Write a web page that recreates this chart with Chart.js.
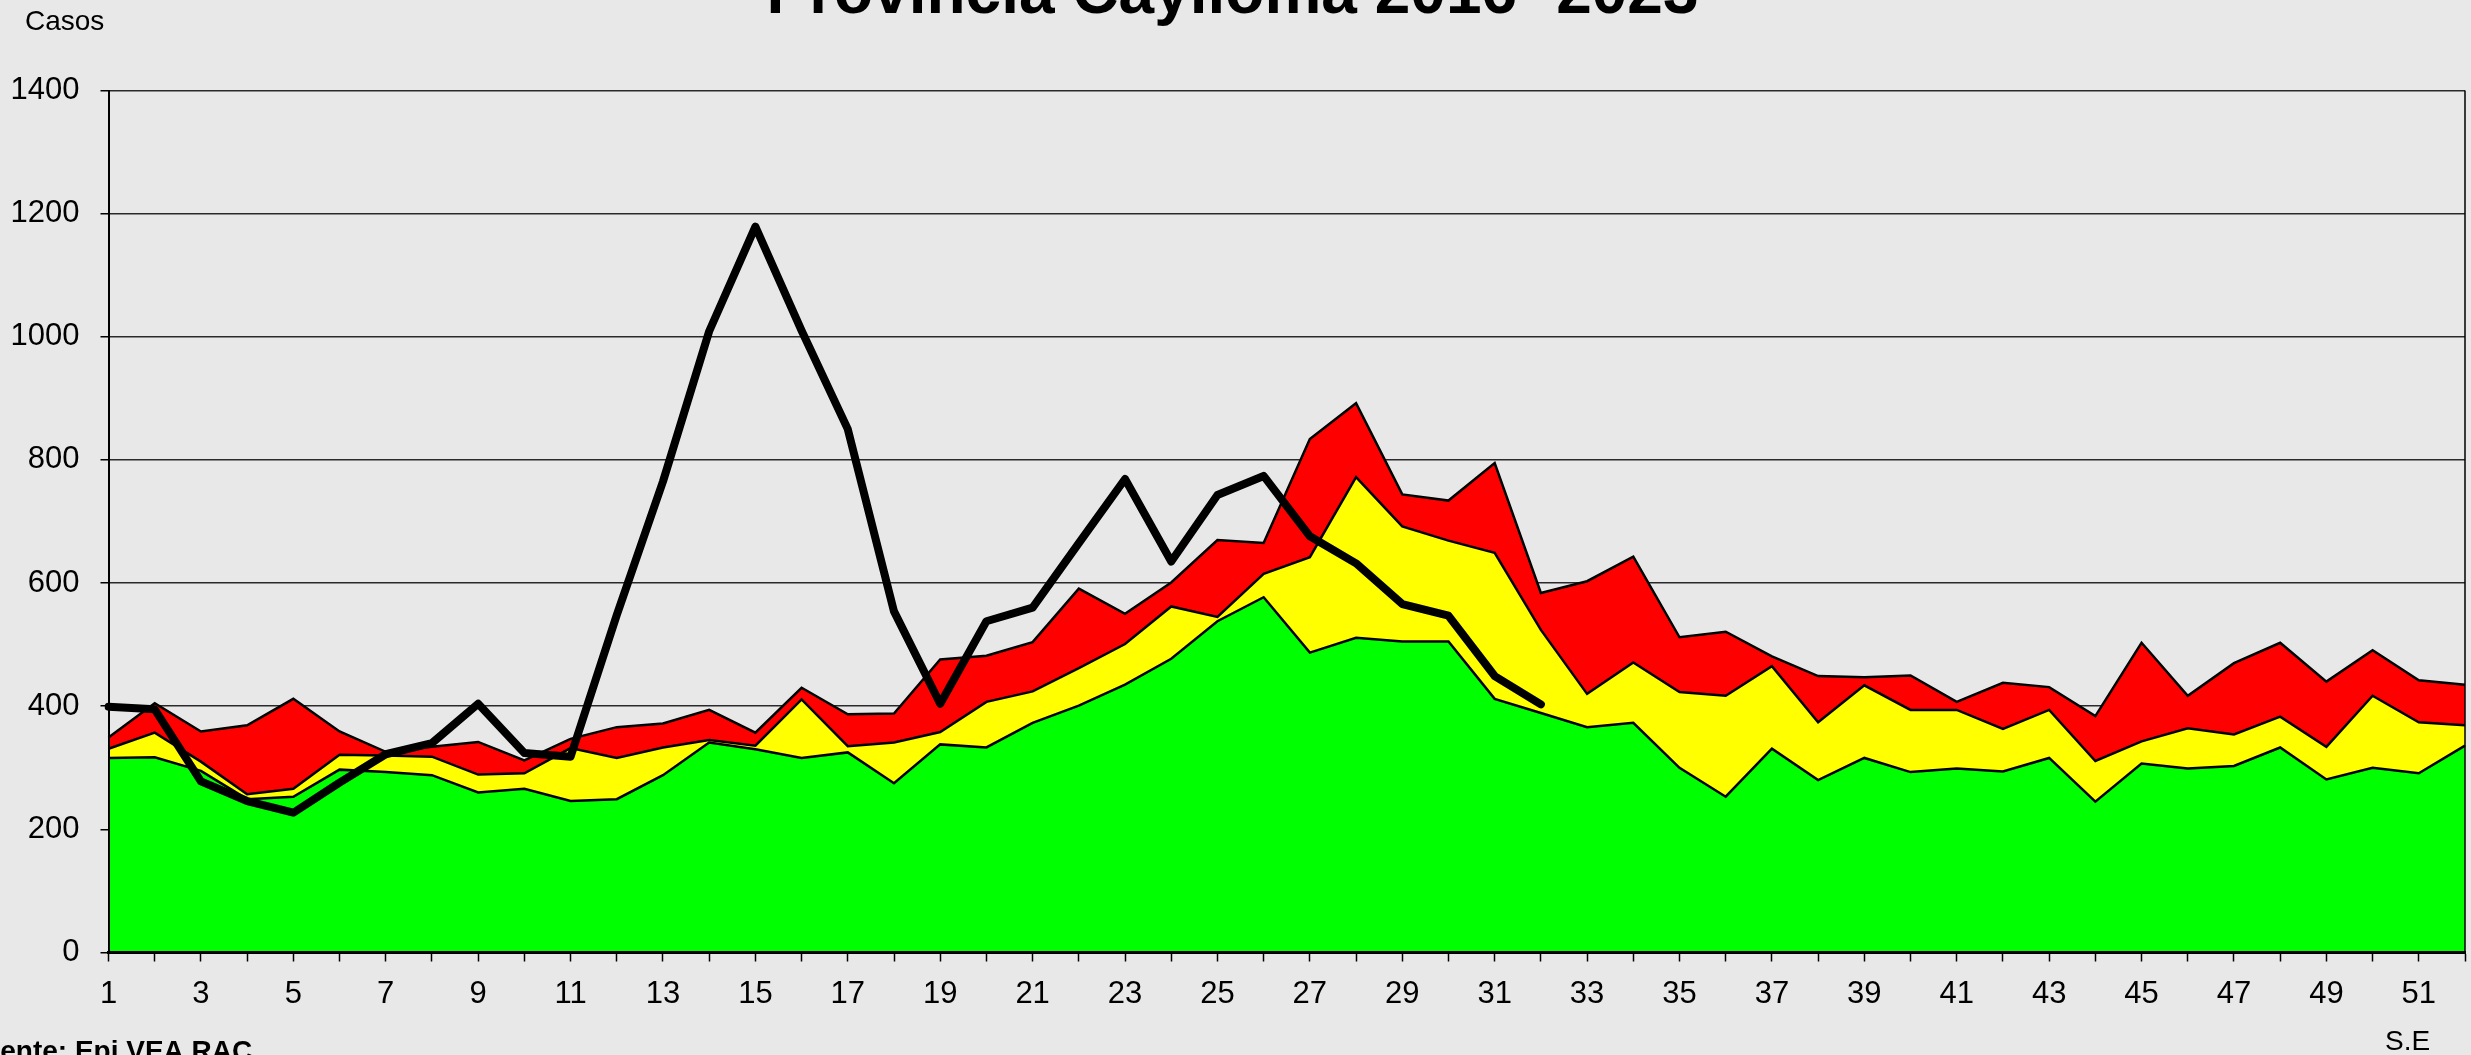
<!DOCTYPE html>
<html lang="es">
<head>
<meta charset="utf-8">
<title>Provincia Caylloma 2016- 2023</title>
<script src="https://cdn.jsdelivr.net/npm/chart.js@4.4.0/dist/chart.umd.min.js"></script>
<style>
    html, body { margin: 0; padding: 0; background: #e8e8e8; overflow: hidden; }
    canvas { display: block; }
</style>
</head>
<body>
<canvas id="canalEndemico" width="2471" height="1055"></canvas>
<script>
// Semanas epidemiologicas
const semanas = [1, 2, 3, 4, 5, 6, 7, 8, 9, 10, 11, 12, 13, 14, 15, 16, 17, 18, 19, 20,
    21, 22, 23, 24, 25, 26, 27, 28, 29, 30, 31, 32, 33, 34, 35, 36, 37, 38, 39, 40,
    41, 42, 43, 44, 45, 46, 47, 48, 49, 50, 51, 52];

// Canal endemico: limite superior de cada zona
const zonaExito = [316, 317, 295, 249, 253, 297, 293, 288, 260, 266, 246, 249, 288, 341, 330, 316, 325, 275, 338, 333,
    373, 401, 435, 477, 538, 577, 487, 511, 505, 505, 412, 389, 366, 373, 300, 253, 331, 280, 316, 293,
    299, 294, 316, 245, 307, 299, 303, 333, 281, 300, 291, 336];
const zonaSeguridad = [331, 357, 310, 257, 266, 321, 320, 318, 289, 291, 332, 316, 333, 345, 336, 411, 335, 341, 358, 407,
    424, 462, 501, 562, 545, 615, 642, 772, 692, 669, 649, 524, 420, 471, 423, 417, 465, 374, 434, 394,
    394, 363, 394, 311, 343, 364, 354, 383, 334, 417, 374, 369];
const zonaAlarma = [349, 405, 359, 369, 412, 359, 326, 334, 342, 312, 347, 366, 372, 394, 357, 430, 387, 388, 476, 482,
    504, 591, 550, 601, 670, 665, 834, 892, 744, 734, 795, 584, 603, 643, 512, 521, 481, 449, 447, 450,
    407, 438, 431, 384, 503, 417, 470, 503, 440, 491, 442, 435];

// Casos 2023 (hasta la S.E 32)
const casos2023 = [399, 395, 278, 246, 227, 276, 322, 340, 404, 324, 318, 548, 765, 1009, 1179, 1010, 850, 554, 404, 538,
    560, 665, 769, 635, 743, 774, 676, 632, 566, 547, 449, 403, null, null, null, null, null, null, null, null,
    null, null, null, null, null, null, null, null, null, null, null, null];

const ticksCasos = [0, 200, 400, 600, 800, 1000, 1200, 1400];

Chart.defaults.font.family = '"Liberation Sans", Arial, sans-serif';
Chart.defaults.color = '#000';

// textos sueltos y borde derecho
const textos = {
    id: 'textos',
    afterDraw(chart) {
        const { ctx, chartArea } = chart;
        ctx.save();
        ctx.strokeStyle = '#000';
        ctx.lineWidth = 1.5;
        ctx.beginPath();
        ctx.moveTo(chartArea.right, chartArea.top);
        ctx.lineTo(chartArea.right, chartArea.bottom);
        ctx.stroke();
        ctx.fillStyle = '#000';
        ctx.textBaseline = 'alphabetic';
        ctx.font = '28px "Liberation Sans", Arial, sans-serif';
        ctx.fillText('Casos', 25, 30);
        ctx.fillText('S.E', 2385, 1050);
        ctx.font = 'bold 28px "Liberation Sans", Arial, sans-serif';
        ctx.fillText('Fuente: Epi VEA RAC', -34, 1060);
        ctx.restore();
    }
};

new Chart(document.getElementById('canalEndemico'), {
    type: 'line',
    data: {
        labels: semanas,
        datasets: [{
            label: '2023',
            data: casos2023,
            borderColor: '#000',
            borderWidth: 8,
            borderJoinStyle: 'round',
            borderCapStyle: 'round',
            pointRadius: 0,
            fill: false,
            order: 0
        }, {
            label: 'Exito',
            data: zonaExito,
            borderColor: '#000',
            borderWidth: 2.5,
            backgroundColor: '#00ff00',
            pointRadius: 0,
            fill: 'origin',
            order: 1
        }, {
            label: 'Seguridad',
            data: zonaSeguridad,
            borderColor: '#000',
            borderWidth: 2.5,
            backgroundColor: '#ffff00',
            pointRadius: 0,
            fill: '-1',
            order: 2
        }, {
            label: 'Alarma',
            data: zonaAlarma,
            borderColor: '#000',
            borderWidth: 2.5,
            backgroundColor: '#ff0000',
            pointRadius: 0,
            fill: '-1',
            order: 3
        }]
    },
    options: {
        responsive: false,
        animation: false,
        devicePixelRatio: 1,
        layout: { padding: { top: 0, right: 6, bottom: 0, left: 0 } },
        plugins: {
            legend: { display: false },
            tooltip: { enabled: false },
            title: {
                display: true,
                text: 'Provincia Caylloma 2016- 2023',
                color: '#000',
                font: { size: 64, weight: 'bold', lineHeight: 1 },
                padding: { top: -37, bottom: 63.5 }
            }
        },
        scales: {
            x: {
                ticks: {
                    autoSkip: false,
                    maxRotation: 0,
                    padding: 14,
                    font: { size: 31 },
                    callback: (v, i) => i % 2 === 0 ? String(semanas[i]) : ''
                },
                grid: { drawOnChartArea: false, tickLength: 9, tickColor: '#000', tickWidth: 1.5 },
                border: { color: '#000', width: 3, z: 1 },
                afterFit: s => { s.height = 102.5; s.paddingLeft = 0; s.paddingRight = 0; }
            },
            y: {
                min: 0,
                max: 1400,
                afterBuildTicks: s => { s.ticks = ticksCasos.map(v => ({ value: v })); },
                ticks: { padding: 21, font: { size: 31 }, callback: v => String(v) },
                grid: { color: '#2a2a2a', lineWidth: 1.5, tickLength: 8, tickColor: '#000' },
                border: { color: '#000', width: 2, z: 1 },
                afterFit: s => { s.width = 108.5; }
            }
        }
    },
    plugins: [textos]
});
</script>
</body>
</html>
